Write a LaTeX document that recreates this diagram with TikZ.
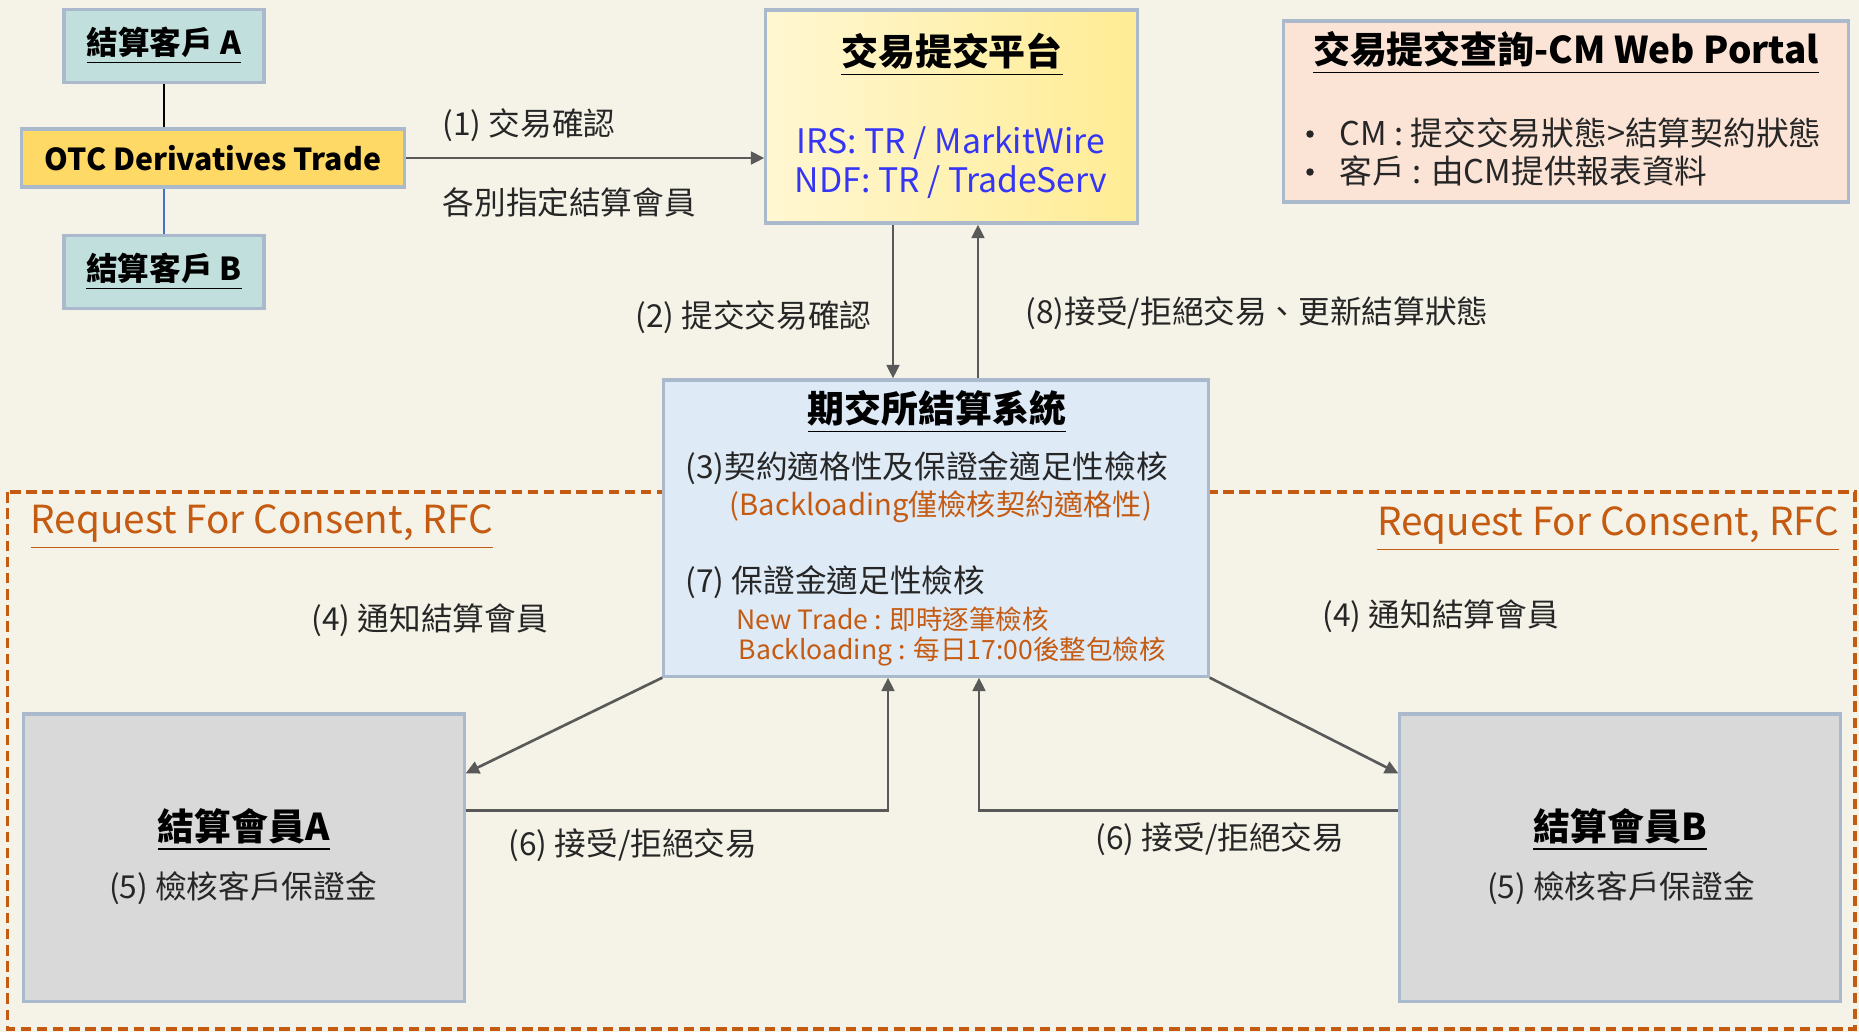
\documentclass[tikz,border=0pt]{standalone}
\usepackage{fontspec}
\setmainfont{Noto Sans CJK TC}
\usetikzlibrary{arrows.meta,calc}

\definecolor{bgcream}{HTML}{F5F3E7}
\definecolor{boxline}{HTML}{ABB9CD}
\definecolor{clientfill}{HTML}{C1DFDC}
\definecolor{otcfill}{HTML}{FFD966}
\definecolor{padlight}{HTML}{FFF7D2}
\definecolor{paddark}{HTML}{FFEC94}
\definecolor{portalfill}{HTML}{FBE4D6}
\definecolor{cmfill}{HTML}{DEEAF6}
\definecolor{memberfill}{HTML}{D9D9D9}
\definecolor{rfcorange}{HTML}{C55A11}
\definecolor{irsblue}{HTML}{3535F5}
\definecolor{arrowgrey}{HTML}{595959}
\definecolor{linkblue}{HTML}{4472C4}

\tikzset{
  box/.style={draw=boxline, line width=0.9pt, inner sep=0pt},
  client/.style={box, fill=clientfill, minimum width=2cm, minimum height=0.73cm,
    font=\fontsize{9}{11}\selectfont\bfseries},
  otcbox/.style={box, fill=otcfill, minimum width=3.82cm, minimum height=0.58cm,
    font=\fontsize{8.6}{11}\selectfont\bfseries},
  platformbox/.style={box, left color=padlight, right color=paddark,
    minimum width=3.71cm, minimum height=2.13cm},
  portalbox/.style={box, fill=portalfill, minimum width=5.64cm, minimum height=1.81cm},
  cmbox/.style={box, fill=cmfill, minimum width=5.44cm, minimum height=2.96cm},
  memberbox/.style={box, fill=memberfill, minimum width=4.4cm, minimum height=2.87cm},
  rfcframe/.style={draw=rfcorange, line width=1pt, dash pattern=on 3pt off 1.6pt},
  bulletdot/.style={circle, fill=black!85, inner sep=0pt, minimum size=0.075cm},
  heading/.style={inner sep=0pt, font=\fontsize{10.5}{12}\selectfont\bfseries},
  lbl/.style={inner sep=0pt, text=black!85, font=\fontsize{9}{11}\selectfont},
  bluetxt/.style={inner sep=0pt, text=irsblue, font=\fontsize{9.6}{11}\selectfont},
  notetxt/.style={inner sep=0pt, text=rfcorange, font=\fontsize{8.3}{10}\selectfont},
  notesmall/.style={inner sep=0pt, text=rfcorange, font=\fontsize{7.55}{9}\selectfont},
  rfctxt/.style={inner sep=0pt, text=rfcorange, font=\fontsize{11}{13}\selectfont},
  arr/.style={draw=arrowgrey, line width=0.75pt, -{Triangle[length=3.8pt,width=3.6pt]}},
}

\begin{document}
\begin{tikzpicture}[x=0.01cm, y=-0.01cm]

  \fill[bgcream] (0,0) rectangle (1859,1032);
  \useasboundingbox (0,0) rectangle (1859,1032);

  % RFC frame
  \draw[rfcframe] (7.5,492) rectangle (1855,1029);

  % Define nodes
  \node[client]  (clientA) at (164,46)  {\underline{結算客戶 A}};
  \node[otcbox]  (otc)     at (213,158) {OTC Derivatives Trade};
  \node[client]  (clientB) at (164,272) {\underline{結算客戶 B}};

  \node[platformbox] (platform) at (951.5,116.5) {};
  \node[heading]  (platformtitle) at (952,55)  {\underline{交易提交平台}};
  \node[bluetxt]  (irs)           at (951,143) {IRS: TR / MarkitWire};
  \node[bluetxt]  (ndf)           at (951,182) {NDF: TR / TradeServ};

  \node[portalbox] (portal) at (1566,111.5) {};
  \node[heading]  (portaltitle) at (1566,53) {\underline{交易提交查詢-CM Web Portal}};
  \node[bulletdot] (dot1) at (1310,134) {};
  \node[lbl, anchor=west, font=\fontsize{9.3}{11}\selectfont] (cmline)  at (1339,133) {CM : 提交交易狀態>結算契約狀態};
  \node[bulletdot] (dot2) at (1310,172) {};
  \node[lbl, anchor=west, font=\fontsize{9.3}{11}\selectfont] (cliline) at (1339,171) {客戶 : 由CM提供報表資料};

  \node[cmbox]   (cm) at (936,528) {};
  \node[heading] (cmtitle) at (937,412) {\underline{期交所結算系統}};
  \node[lbl, anchor=west]       (step3)     at (685,468) {(3)契約適格性及保證金適足性檢核};
  \node[notetxt, anchor=west]   (step3note) at (729,507) {(Backloading僅檢核契約適格性)};
  \node[lbl, anchor=west]       (step7)     at (685,582) {(7) 保證金適足性檢核};
  \node[notesmall, anchor=west] (newtrade)  at (736,619) {New Trade : 即時逐筆檢核};
  \node[notesmall, anchor=west] (backload)  at (738,652) {Backloading : 每日17:00後整包檢核};

  \node[memberbox] (memA) at (244,857.5)  {};
  \node[heading]   (memAtitle) at (244,830) {\underline{結算會員A}};
  \node[lbl]       (memAstep)  at (243,888) {(5) 檢核客戶保證金};
  \node[memberbox] (memB) at (1620,857.5) {};
  \node[heading]   (memBtitle) at (1620,830) {\underline{結算會員B}};
  \node[lbl]       (memBstep)  at (1621,888) {(5) 檢核客戶保證金};

  \node[rfctxt, anchor=west] (rfcA) at (30,527)   {\underline{Request For Consent, RFC}};
  \node[rfctxt, anchor=east] (rfcB) at (1840,529) {\underline{Request For Consent, RFC}};

  % Connect the nodes
  \draw[black, line width=0.4pt] (clientA.south) -- (clientA.south |- otc.north);
  \draw[linkblue, line width=0.4pt] (clientB.north |- otc.south) -- (clientB.north);

  \draw[arr] (otc.east) -- (otc.east -| platform.west);
  \node[lbl, anchor=west] (lbl1)  at (442,125) {(1) 交易確認};
  \node[lbl, anchor=west] (lbl1b) at (442,202) {各別指定結算會員};

  \coordinate (down2) at (893,0);
  \coordinate (up8)   at (978,0);
  \draw[arr] (down2 |- platform.south) -- (down2 |- cm.north);
  \draw[arr] (up8 |- cm.north) -- (up8 |- platform.south);
  \node[lbl, anchor=east] (lbl2) at (872,317)  {(2) 提交交易確認};
  \node[lbl, anchor=west] (lbl8) at (1025,313) {(8)接受/拒絕交易、更新結算狀態};

  \draw[arr] (cm.south west) -- ($(memA.north east)+(0,61)$);
  \draw[arr] (cm.south east) -- ($(memB.north west)+(0,61)$);
  \node[lbl, anchor=west] (lbl4a) at (311,620)  {(4) 通知結算會員};
  \node[lbl, anchor=west] (lbl4b) at (1322,616) {(4) 通知結算會員};

  \coordinate (up6a) at (888,0);
  \coordinate (up6b) at (979,0);
  \draw[arr] ($(memA.north east)+(0,98)$) -| (up6a |- cm.south);
  \draw[arr] ($(memB.north west)+(0,98)$) -| (up6b |- cm.south);
  \node[lbl, anchor=west] (lbl6a) at (508,845)  {(6) 接受/拒絕交易};
  \node[lbl, anchor=west] (lbl6b) at (1095,839) {(6) 接受/拒絕交易};

\end{tikzpicture}
\end{document}
